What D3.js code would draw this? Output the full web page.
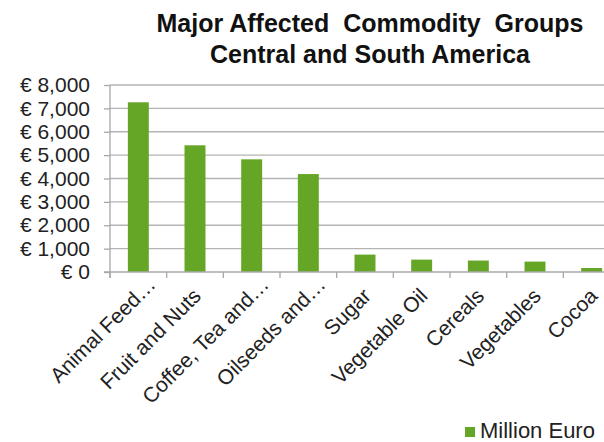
<!DOCTYPE html>
<html lang="en">
<head>
  <meta charset="utf-8">
  <script src="https://d3js.org/d3.v7.min.js"></script>
  <style>
    body, html {
      margin: 0;
      padding: 0;
      background: #fff;
    }
    text {
      font-family: "Liberation Sans", Arial, sans-serif;
      fill: #222;
    }
    .title {
      font-size: 25px;
      font-weight: bold;
      fill: #111;
    }
    .grid line {
      stroke: #b4b4b4;
      stroke-width: 1.3px;
    }
    .axis path, .axis line {
      stroke: #a8a8a8;
      stroke-width: 1.3px;
    }
    .axis text {
      font-size: 21px;
      fill: #222;
    }
  </style>
</head>
<body>
<svg id="chart" width="604" height="442"></svg>

<script>
  // chart data
  var categories = ["Animal Feed\u2026", "Fruit and Nuts", "Coffee, Tea and\u2026", "Oilseeds and\u2026",
                    "Sugar", "Vegetable Oil", "Cereals", "Vegetables", "Cocoa"];
  var values = [7260, 5420, 4820, 4190, 745, 530, 490, 445, 170];
  var yTicks = [0, 1000, 2000, 3000, 4000, 5000, 6000, 7000, 8000];
  var titleLines = ["Major Affected  Commodity  Groups", "Central and South America"];
  var seriesName = "Million Euro";

  var svg = d3.select("#chart");
  var green = "#66a626";

  var plotLeft = 110, plotRight = 620, plotTop = 85, plotBottom = 272;

  var x = d3.scaleBand()
      .domain(categories)
      .range([plotLeft, plotRight])
      .paddingInner(0.63)
      .paddingOuter(0.315);

  var y = d3.scaleLinear()
      .domain([0, 8000])
      .range([plotBottom, plotTop]);

  // title
  svg.selectAll(".title")
      .data(titleLines)
      .enter().append("text")
      .attr("class", "title")
      .attr("x", 370)
      .attr("y", function(d, i) { return 32 + i * 31; })
      .attr("text-anchor", "middle")
      .style("white-space", "pre")
      .text(function(d) { return d; });

  // gridlines
  svg.append("g")
      .attr("class", "grid")
      .selectAll("line")
      .data(yTicks.slice(1))
      .enter().append("line")
      .attr("x1", plotLeft)
      .attr("x2", plotRight)
      .attr("y1", function(d) { return y(d); })
      .attr("y2", function(d) { return y(d); });

  // bars
  svg.selectAll(".bar")
      .data(values)
      .enter().append("rect")
      .attr("class", "bar")
      .attr("x", function(d, i) { return x(categories[i]); })
      .attr("width", x.bandwidth())
      .attr("y", function(d) { return y(d); })
      .attr("height", function(d) { return y(0) - y(d); })
      .attr("fill", green);

  // y axis
  var yAxis = d3.axisLeft(y)
      .tickValues(yTicks)
      .tickSize(6)
      .tickPadding(14)
      .tickFormat(function(d) { return "\u20ac " + d3.format(",")(d); });

  svg.append("g")
      .attr("class", "axis")
      .attr("transform", "translate(" + plotLeft + ",0)")
      .call(yAxis)
      .call(function(g) { g.select(".domain").attr("d", "M0," + plotTop + "V" + (plotBottom + 6)); });

  // x axis (ticks between categories)
  var xg = svg.append("g").attr("class", "axis");
  xg.append("line")
      .attr("x1", plotLeft - 6).attr("x2", plotRight)
      .attr("y1", plotBottom).attr("y2", plotBottom);
  xg.selectAll(".xt")
      .data(d3.range(categories.length + 1))
      .enter().append("line")
      .attr("class", "xt")
      .attr("x1", function(i) { return plotLeft + i * x.step(); })
      .attr("x2", function(i) { return plotLeft + i * x.step(); })
      .attr("y1", plotBottom)
      .attr("y2", plotBottom + 6);

  xg.selectAll(".xl")
      .data(categories)
      .enter().append("text")
      .attr("class", "xl")
      .attr("transform", function(d) {
          var cx = x(d) + x.bandwidth() / 2;
          return "translate(" + (cx + 2) + "," + (plotBottom + 20) + ") rotate(-45)";
      })
      .attr("dx", function(d) { return d.slice(-1) === "\u2026" ? 16 : 0; })
      .attr("dy", "0.35em")
      .attr("text-anchor", "end")
      .text(function(d) { return d; });

  // legend
  var lg = svg.append("g").attr("transform", "translate(465,427)");
  lg.append("rect")
      .attr("width", 10)
      .attr("height", 10)
      .attr("fill", green);
  lg.append("text")
      .attr("x", 15)
      .attr("y", 11)
      .style("font-size", "22px")
      .text(seriesName);
</script>
</body>
</html>
